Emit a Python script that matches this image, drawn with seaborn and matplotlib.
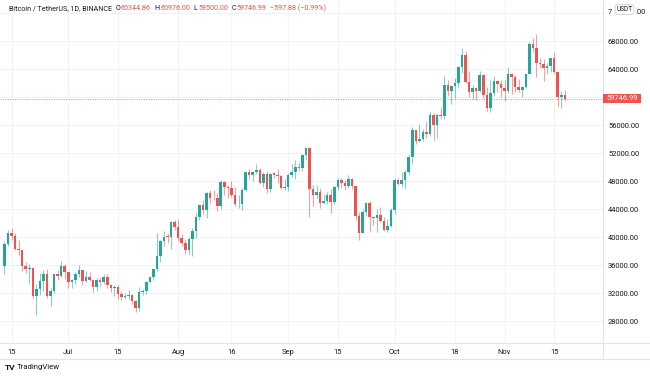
import matplotlib
matplotlib.use("Agg")
import matplotlib.pyplot as plt
import matplotlib.dates as mdates
from matplotlib.patches import Rectangle
from matplotlib.lines import Line2D
import seaborn as sns
import pandas as pd
import numpy as np

# ---------------- data (BTC/USDT daily) ----------------
start_date = "2021-06-13"
opens = [35796, 39020, 40516, 40143, 38349, 38099, 35820, 35483, 35600, 31614,
         32510, 33676, 34663, 31577, 32283, 34702, 34494, 35911, 35045, 33502,
         33786, 34668, 35288, 33690, 34220, 33863, 32876, 33815, 33502, 34259,
         33087, 32729, 32820, 31874, 31384, 31520, 31778, 30839, 29790, 32144,
         32287, 33635, 34258, 35381, 37241, 39456, 40020, 40018, 42207, 41461,
         39850, 39146, 38207, 39723, 40862, 42836, 44614, 43794, 46281, 45593,
         45550, 44399, 47817, 47096, 47019, 45937, 44687, 44742, 46763, 49340,
         48868, 49284, 49506, 47707, 48979, 46852, 49073, 48896, 48768, 46970,
         47100, 48810, 49247, 49943, 49923, 51756, 52666, 46868, 46048, 46396,
         44851, 45165, 46026, 44941, 47093, 48126, 47754, 47260, 48284, 47261,
         42967, 40587, 43575, 44895, 42840, 42721, 43208, 42235, 41034, 41564,
         43820, 48142, 47632, 48200, 49225, 51471, 55316, 53785, 53955, 54949,
         54660, 57471, 56007, 57370, 57347, 61672, 60875, 61528, 62006, 64281,
         66001, 62194, 60689, 61286, 60852, 63079, 60328, 58413, 60575, 62253,
         61860, 61300, 60911, 63220, 62897, 61395, 60941, 61470, 63273, 67526,
         66947, 64883, 64774, 64123, 64380, 65520, 63606, 60059, 60344.86]
highs = [39380, 41064, 41330, 40527, 39560, 38200, 36457, 36137, 35750, 33298,
         34881, 35298, 35500, 32730, 34749, 35297, 36600, 36100, 35036, 33977,
         34945, 35967, 35293, 35118, 35059, 33909, 34100, 34262, 34666, 34679,
         33339, 33125, 33185, 32249, 31950, 32435, 31899, 31063, 32858, 32591,
         33650, 34500, 35398, 40550, 39542, 40900, 40640, 42320, 42414, 42599,
         40459, 39785, 39969, 41350, 43392, 44700, 45310, 46454, 46700, 46743,
         46218, 48144, 48000, 47372, 48053, 47160, 46000, 47033, 49382, 49757,
         49500, 50500, 49875, 49278, 49380, 49200, 49309, 49653, 48910, 48246,
         49156, 50401, 51040, 50558, 51900, 52780, 52920, 47381, 47400, 47031,
         45990, 46460, 46880, 47250, 48475, 48500, 48150, 48843, 48372, 47341,
         43639, 44000, 44978, 45200, 42967, 43950, 44350, 42790, 42606, 44132,
         48495, 48360, 49228, 49536, 51887, 55750, 55332, 56100, 55489, 56561,
         57839, 57680, 57625, 58531, 62933, 62378, 61718, 62695, 64486, 67000,
         66639, 63732, 61750, 61500, 63710, 63293, 61496, 62499, 62980, 62359,
         62405, 62437, 64270, 63500, 63123, 62595, 61560, 63286, 67789, 68500,
         69000, 65600, 65460, 64915, 65550, 66401, 63617, 60840, 60976.00]
lows = [34757, 38730, 39506, 38116, 37365, 35129, 34803, 33336, 31251, 28805,
        31683, 32286, 31275, 30151, 32000, 33862, 34226, 34017, 32711, 32699,
        33316, 34357, 33125, 33532, 33777, 32077, 32261, 33004, 33306, 32658,
        32203, 31600, 31133, 31020, 31164, 31108, 30407, 29278, 29482, 31708,
        31924, 33401, 33851, 35205, 36383, 38772, 39200, 38313, 41000, 39422,
        38690, 37627, 37508, 37332, 39853, 42446, 43261, 42779, 44800, 45341,
        43770, 44057, 46000, 45525, 45660, 44377, 44203, 43927, 46622, 48273,
        48010, 49045, 47600, 47126, 46322, 46376, 48371, 47763, 46853, 46700,
        46513, 48584, 48349, 49390, 49500, 50970, 42843, 44413, 45514, 44133,
        44722, 44742, 43370, 44750, 46721, 47020, 46700, 47044, 46829, 42500,
        39600, 40565, 43064, 40675, 41646, 40750, 42098, 40900, 40750, 41410,
        43283, 47430, 47088, 46891, 49058, 50382, 53357, 53617, 53661, 54080,
        54415, 53879, 54170, 56819, 56850, 60150, 58963, 59844, 61322, 63481,
        62000, 60000, 59700, 59510, 60650, 59817, 58000, 57820, 60174, 60673,
        59945, 59405, 60624, 60382, 60776, 60721, 60050, 61322, 63273, 66382,
        62822, 64100, 62333, 63303, 63576, 63400, 58575, 58373, 59500.00]
closes = [39020, 40516, 40144, 38349, 38092, 35820, 35483, 35600, 31608, 32509,
          33678, 34663, 31584, 32283, 34700, 34494, 35911, 35045, 33504, 33786,
          34669, 35286, 33690, 34220, 33862, 32875, 33815, 33502, 34259, 33086,
          32729, 32820, 31880, 31383, 31520, 31778, 30839, 29790, 32144, 32288,
          33634, 34258, 35381, 37237, 39457, 40020, 40016, 42206, 41461, 39845,
          39147, 38207, 39723, 40862, 42836, 44614, 43792, 46285, 45593, 45549,
          44399, 47816, 47097, 47019, 45936, 44686, 44741, 46763, 49340, 48867,
          49285, 49507, 47707, 48983, 46851, 49070, 48896, 48768, 46971, 47100,
          48811, 49247, 49942, 49923, 51756, 52663, 46864, 46049, 46395, 44851,
          45164, 46026, 44940, 47093, 48126, 47754, 47260, 48284, 47261, 42969,
          40587, 43574, 44895, 42840, 42716, 43208, 42235, 41034, 41564, 43791,
          48142, 47634, 48200, 49224, 51471, 55315, 53785, 53951, 54950, 54659,
          57471, 56006, 57367, 57347, 61672, 60875, 61528, 62010, 64280, 66002,
          62193, 60689, 61286, 60852, 63078, 60328, 58413, 60575, 62253, 61859,
          61299, 60911, 63219, 62897, 61395, 60937, 61470, 63273, 67525, 66947,
          64882, 64774, 64122, 64380, 65520, 63607, 60059, 60344, 59746.99]

grid_prices = [28000, 32000, 36000, 40000, 44000, 48000, 52000, 56000, 60000,
               64000, 68000, 72000]
label_prices = [28000, 32000, 36000, 40000, 44000, 48000, 52000, 56000,
                64000, 68000]
top_price_label = 72000
time_tick_dates = ["2021-06-15", "2021-07-01", "2021-07-15", "2021-08-01",
                   "2021-08-16", "2021-09-01", "2021-09-15", "2021-10-01",
                   "2021-10-18", "2021-11-01", "2021-11-15"]
time_tick_labels = ["15", "Jul", "15", "Aug", "16", "Sep", "15", "Oct", "18",
                    "Nov", "15"]
last_price = 59746.99
title_main = "Bitcoin / TetherUS, 1D, BINANCE"
ohlc_labels = ["O", "H", "L", "C"]
ohlc_values = ["60344.86", "60976.00", "59500.00", "59746.99"]
change_text = "\u2212597.88 (\u22120.99%)"

# ---------------- style ----------------
sns.set_style("white")
plt.rcParams["font.family"] = ["Roboto", "DejaVu Sans"]

UP = "#26a69a"
DOWN = "#ef5350"
TXT = "#131722"
GRID = "#f0f3fa"
SEP = "#e0e3eb"

W, H = 650, 380
fig = plt.figure(figsize=(W / 100, H / 100), dpi=100)
fig.patch.set_facecolor("white")

ax_right = 603
ax_bottom = 343
ax = fig.add_axes([0, 1 - ax_bottom / H, ax_right / W, ax_bottom / H])
ax.set_facecolor("white")

df = pd.DataFrame({"open": opens, "high": highs, "low": lows, "close": closes})
df["date"] = pd.date_range(start_date, periods=len(df), freq="D")
df["x"] = mdates.date2num(df["date"])
df["up"] = df["close"] >= df["open"]
df["color"] = np.where(df["up"], UP, DOWN)

# grid
for p in grid_prices:
    ax.axhline(p, color=GRID, lw=0.8, zorder=0)
tick_x = mdates.date2num(pd.to_datetime(time_tick_dates))
for t in tick_x:
    ax.axvline(t, color=GRID, lw=0.8, zorder=0)

# wicks
ax.vlines(df["x"], df["low"], df["high"], colors=df["color"], lw=0.8,
          alpha=0.55, zorder=2)
# bodies
body_bottom = df[["open", "close"]].min(axis=1)
body_h = (df["close"] - df["open"]).abs().clip(lower=80)
ax.bar(df["x"], body_h, bottom=body_bottom, width=0.72, color=df["color"],
       linewidth=0, zorder=3)

# last price dotted line
ax.axhline(last_price, color=DOWN, lw=0.7, ls=(0, (1, 1.5)), alpha=0.7, zorder=1)

# limits
jun15 = mdates.date2num(pd.Timestamp("2021-06-15"))
px_per_day = 3.547
ax.set_xlim(jun15 - 11.5 / px_per_day, jun15 + (ax_right - 11.5) / px_per_day)
ax.set_ylim(68000 - (ax_bottom - 41) / 0.007, 68000 + 41 / 0.007)

for s in ax.spines.values():
    s.set_visible(False)

ax.set_xticks(tick_x)
ax.set_xticklabels(time_tick_labels)
ax.tick_params(axis="x", length=0, pad=4, labelsize=5.4, labelcolor=TXT)
ax.yaxis.tick_right()
ax.set_yticks(label_prices)
ax.set_yticklabels([f"{p:.2f}" for p in label_prices])
ax.tick_params(axis="y", length=0, pad=3.6, labelsize=5.4, labelcolor=TXT)

# separators
fig.add_artist(Line2D([ax_right / W, ax_right / W], [1, 1 - 359 / H],
                      transform=fig.transFigure, color=SEP, lw=0.8))
fig.add_artist(Line2D([0, 1], [1 - ax_bottom / H, 1 - ax_bottom / H],
                      transform=fig.transFigure, color=SEP, lw=0.8))
fig.add_artist(Line2D([0, 1], [1 - 359 / H, 1 - 359 / H],
                      transform=fig.transFigure, color=SEP, lw=0.8))

fig.canvas.draw()
renderer = fig.canvas.get_renderer()

# top price label peeking out from behind the currency badge (only the
# visible ends are drawn so the badge stays readable)
y72 = ax.transData.transform((0, top_price_label))[1]
lbl72 = f"{top_price_label:.2f}"
fig.text(608 / W, y72 / H, lbl72[:1], ha="left", va="center", fontsize=5.4,
         color=TXT)
fig.text(635.5 / W, y72 / H, lbl72[-3:], ha="left", va="center", fontsize=5.4,
         color=TXT)

# last price label box on the price axis
y_disp = ax.transData.transform((0, last_price))[1]
fig.add_artist(Rectangle((ax_right / W, (y_disp - 4.5) / H), 38 / W, 9 / H,
                         transform=fig.transFigure, color=DOWN, lw=0, zorder=5))
fig.text((ax_right + 19) / W, y_disp / H, f"{last_price:.2f}", color="white",
         ha="center", va="center", fontsize=5.4, zorder=6)

# USDT badge
fig.text(624.5 / W, 1 - 9.5 / H, "USDT", ha="center", va="center", fontsize=4.7,
         color=TXT, zorder=7,
         bbox=dict(boxstyle="round,pad=0.2,rounding_size=0.35", fc="white",
                   ec="#c8ccd6", lw=0.6))

# header legend
ty = 1 - 8.5 / H
HS = 5.1


def put(x_px, s, color, size=HS):
    t = fig.text(x_px / W, ty, s, color=color, fontsize=size, ha="left",
                 va="center")
    bb = t.get_window_extent(renderer=renderer)
    return bb.x1


xe = put(9, title_main, TXT)
for lab, val in zip(ohlc_labels, ohlc_values):
    xe = put(xe + 3.8, lab, TXT)
    xe = put(xe + 0.4, val, DOWN)
put(xe + 3.8, change_text, DOWN)

# TradingView footer
fig.text(5 / W, 1 - 367 / H, "TV", fontsize=6, fontweight="bold", color=TXT,
         ha="left", va="center")
fig.text(17 / W, 1 - 367 / H, "TradingView", fontsize=5.6, color=TXT,
         ha="left", va="center")

fig.savefig("out.png", dpi=100, facecolor="white")
